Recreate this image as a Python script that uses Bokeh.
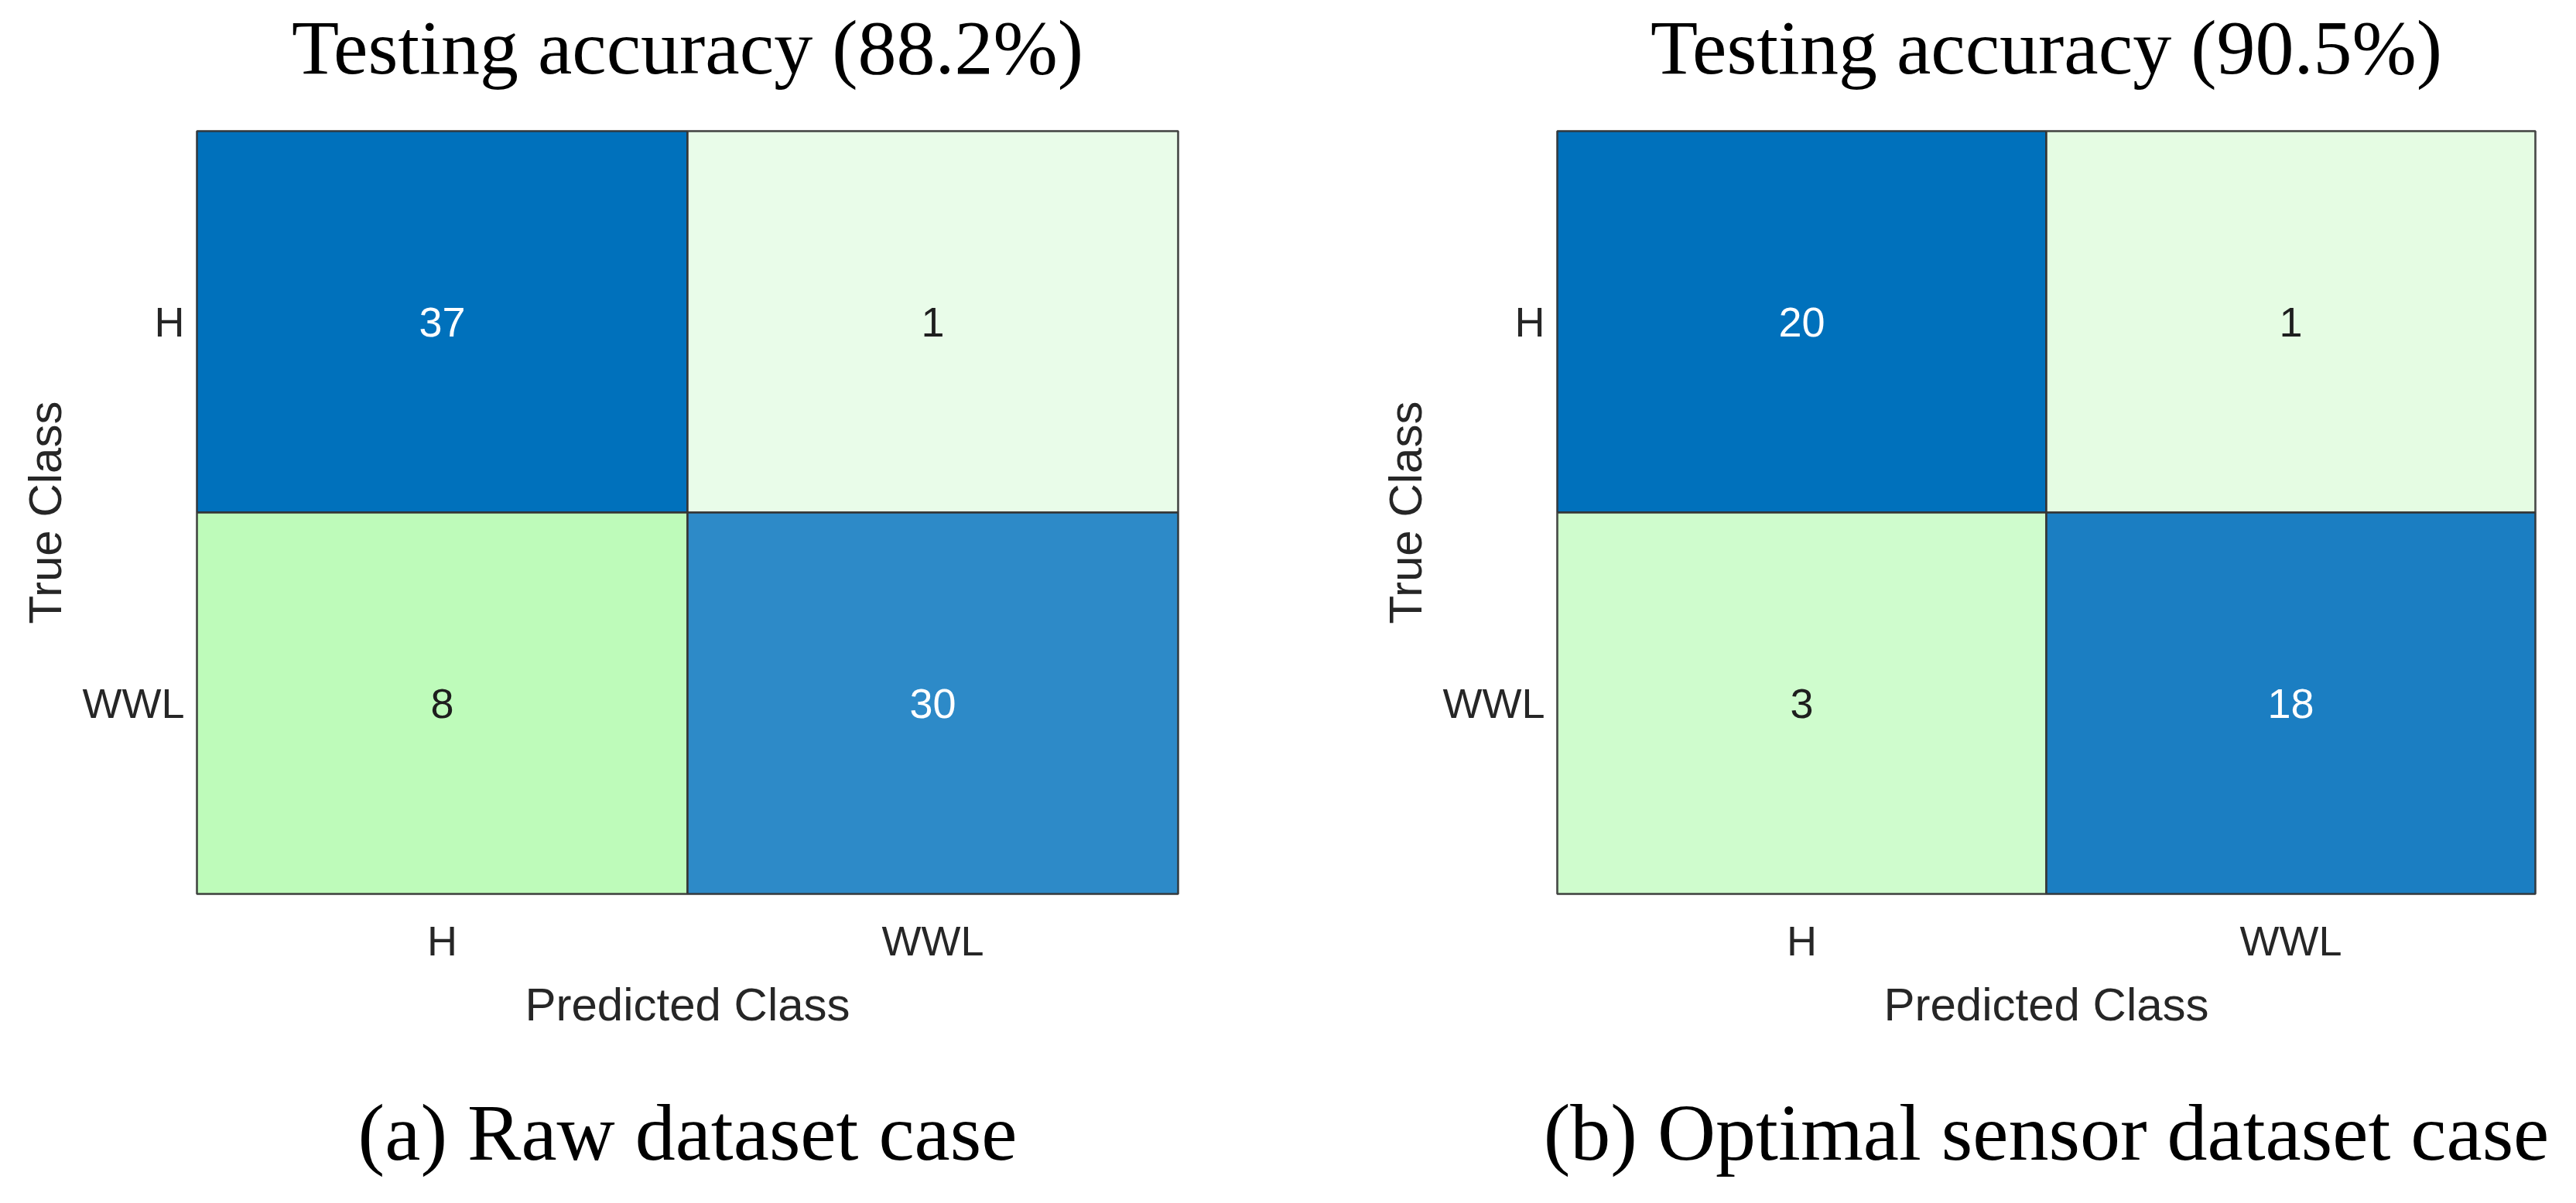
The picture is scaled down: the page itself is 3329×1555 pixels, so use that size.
from bokeh.plotting import figure
from bokeh.models import ColumnDataSource, FactorRange, LinearAxis, FixedTicker
from bokeh.layouts import row
from bokeh.embed import file_html
from bokeh.resources import INLINE
from bokeh.core.properties import value

# ---------------- data ----------------
classes = ["H", "WWL"]
# confusion matrices, row-major: rows = true class, columns = predicted class
raw_counts = [37, 1, 8, 30]
opt_counts = [20, 1, 3, 18]
raw_accuracy = 88.2
opt_accuracy = 90.5
captions = ["(a) Raw dataset case", "(b) Optimal sensor dataset case"]
x_label = "Predicted Class"
y_label = "True Class"

# ---------------- styles ----------------
raw_colors = ["#0071BC", "#E9FCE9", "#BEFBBA", "#2D8AC8"]
opt_colors = ["#0071BC", "#E5FCE3", "#CFFCCD", "#1B7EC2"]
SANS = "Liberation Sans"
SERIF = "Liberation Serif"


def text_axis(text, size, standoff):
    """A tick-less axis whose only content is its label (title / caption)."""
    return LinearAxis(ticker=FixedTicker(ticks=[], minor_ticks=[]),
                      axis_line_color=None, major_tick_line_color=None,
                      minor_tick_line_color=None, major_tick_in=0,
                      major_tick_out=0, minor_tick_out=0, minor_tick_in=0,
                      major_label_standoff=0,
                      axis_label=text, axis_label_standoff=standoff,
                      axis_label_text_font=SERIF,
                      axis_label_text_font_size=size,
                      axis_label_text_font_style="normal",
                      axis_label_text_color="black")


def make_panel(counts, colors, accuracy, caption, left, right, frame_w):
    true_c, pred_c, txt, txt_col = [], [], [], []
    k = 0
    for t in classes:
        for p_ in classes:
            true_c.append(t)
            pred_c.append(p_)
            txt.append(str(counts[k]))
            txt_col.append("#FFFFFF" if t == p_ else "#1E1E1E")
            k += 1
    src = ColumnDataSource(dict(true=true_c, pred=pred_c, txt=txt,
                                fill=colors, tcol=txt_col))
    p = figure(x_range=FactorRange(*classes, range_padding=0),
               y_range=FactorRange(*classes[::-1], range_padding=0),
               frame_width=frame_w, frame_height=986,
               min_border_left=left, min_border_right=right,
               min_border_top=169, min_border_bottom=384,
               title=None,
               output_backend="svg", toolbar_location=None,
               background_fill_color="white", border_fill_color="white")
    p.rect(x="pred", y="true", width=1, height=1, source=src,
           fill_color="fill", line_color="#353535", line_width=2.5)
    p.text(x="pred", y="true", text="txt", source=src,
           text_color="tcol", text_align="center", text_baseline="middle",
           text_font=value(SANS), text_font_size="54px")
    p.outline_line_color = "#353535"
    p.outline_line_width = 2.5
    p.xgrid.visible = False
    p.ygrid.visible = False
    for ax in (p.xaxis, p.yaxis):
        ax.axis_line_color = None
        ax.major_tick_line_color = None
        ax.minor_tick_line_color = None
        ax.major_tick_out = 0
        ax.minor_tick_out = 0
        ax.major_label_text_font = SANS
        ax.major_label_text_font_size = "54px"
        ax.major_label_text_color = "#262626"
        ax.axis_label_text_font = SANS
        ax.axis_label_text_font_size = "60px"
        ax.axis_label_text_font_style = "normal"
        ax.axis_label_text_color = "#262626"
    p.xaxis.axis_label = x_label
    p.yaxis.axis_label = y_label
    p.xaxis.major_label_standoff = 30
    p.xaxis.axis_label_standoff = 16
    p.yaxis.major_label_standoff = 16
    p.yaxis.axis_label_standoff = 12

    # title above the matrix, caption below the x axis
    p.add_layout(text_axis(f"Testing accuracy ({accuracy}%)", "100px", 53),
                 "above")
    p.add_layout(text_axis(caption, "104px", 71), "below")
    return p


p1 = make_panel(raw_counts, raw_colors, raw_accuracy, captions[0],
                254, 170, 1268)
p2 = make_panel(opt_counts, opt_colors, opt_accuracy, captions[1],
                320, 37, 1264)

layout = row(p1, p2, spacing=0)
open("out.html", "w").write(file_html(layout, INLINE))
